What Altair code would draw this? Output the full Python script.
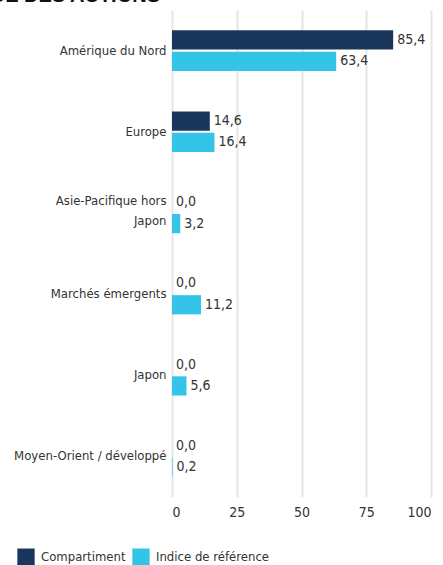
import altair as alt
import pandas as pd

regions = ["Amérique du Nord", "Europe", "Asie-Pacifique hors Japon",
           "Marchés émergents", "Japon", "Moyen-Orient / développé"]
compartiment = [85.4, 14.6, 0.0, 0.0, 0.0, 0.0]
indice = [63.4, 16.4, 3.2, 11.2, 5.6, 0.2]
series = ["Compartiment", "Indice de référence"]
colors = ["#1b365d", "#34c4e8"]
x_ticks = [0, 25, 50, 75, 100]

rows = []
for r, a, b in zip(regions, compartiment, indice):
    rows.append({"region": r, "serie": series[0], "value": a})
    rows.append({"region": r, "serie": series[1], "value": b})
df = pd.DataFrame(rows)

FONT = "DejaVu Sans Condensed, sans-serif"

base = alt.Chart(df).encode(
    y=alt.Y("region:N", sort=regions, title=None,
            scale=alt.Scale(paddingInner=0.5, paddingOuter=0.25),
            axis=alt.Axis(domain=False, ticks=False, labelPadding=6,
                          labelFontSize=13, labelFont=FONT, labelColor="#333333",
                          labelLimit=200, labelLineHeight=20,
                          labelOffset={"condition": {"test": "datum.value == 'Asie-Pacifique hors Japon'", "value": -12}, "value": 0},
                          labelExpr="datum.value == 'Asie-Pacifique hors Japon' ? ['Asie-Pacifique hors', 'Japon'] : datum.value")),
    yOffset=alt.YOffset("serie:N", sort=series, scale=alt.Scale(paddingInner=0.1)),
)

bars = base.mark_bar().encode(
    x=alt.X("value:Q", title=None,
            scale=alt.Scale(domain=[0, 100], nice=False),
            axis=alt.Axis(values=x_ticks, domain=False, ticks=False, grid=True,
                          gridColor="#e6e6e6", gridWidth=2, labelPadding=8,
                          labelFontSize=14, labelFont=FONT, labelColor="#333333")),
    color=alt.Color("serie:N", sort=series,
                    scale=alt.Scale(domain=series, range=colors),
                    legend=alt.Legend(title=None, orient="none", direction="horizontal",
                                      legendX=-155, legendY=538,
                                      symbolType="square", symbolSize=300,
                                      symbolStrokeWidth=0, symbolOpacity=1,
                                      labelFontSize=13, labelFont=FONT,
                                      labelColor="#333333", columnPadding=6,
                                      labelOffset=6)),
)

labels = base.mark_text(align="left", baseline="middle", dx=4, fontSize=14,
                        font=FONT, color="#333333").transform_calculate(
    lab="replace(format(datum.value, '.1f'), '.', ',')"
).encode(
    x=alt.X("value:Q"),
    text="lab:N",
)

title = alt.Chart(pd.DataFrame({"t": ["RÉPARTITION GÉOGRAPHIQUE DES ACTIONS"]})).mark_text(
    align="right", baseline="alphabetic", fontSize=20, fontWeight="bold",
    font="Liberation Sans", color="#111111"
).encode(x=alt.value(-12), y=alt.value(-8), text="t:N")

chart = alt.layer(bars, labels, title).properties(
    width=259, height=487,
    padding={"left": 172, "top": 10, "right": 12, "bottom": 68},
    autosize=alt.AutoSizeParams(type="none"),
).configure_view(stroke=None)

chart.save("out.html", embed_options={"renderer": "svg", "actions": False})
